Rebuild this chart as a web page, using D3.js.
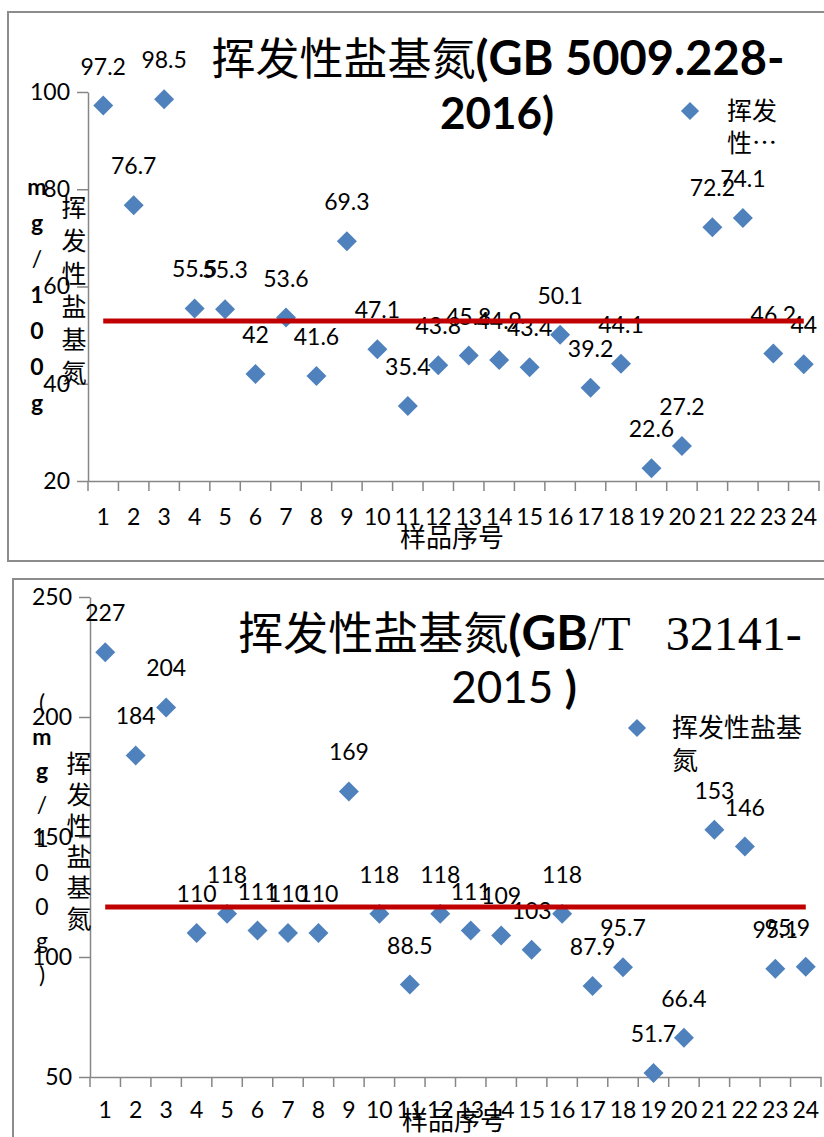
<!DOCTYPE html>
<html>
<head>
<meta charset="utf-8">
<script src="https://cdn.jsdelivr.net/npm/d3@7"></script>
<style>
  body { margin: 0; background: #fff; }
  svg { display: block; }
</style>
</head>
<body>
<svg id="fig" width="824" height="1137"></svg>
<script>
// Sample numbers (x categories)
const sampleNos = ["1", "2", "3", "4", "5", "6", "7", "8", "9", "10", "11", "12",
                   "13", "14", "15", "16", "17", "18", "19", "20", "21", "22", "23", "24"];

// Volatile basic nitrogen, mg/100g — method GB 5009.228-2016
const tvbnGB5009 = [97.2, 76.7, 98.5, 55.5, 55.3, 42, 53.6, 41.6, 69.3, 47.1, 35.4, 43.8,
                    45.8, 44.9, 43.4, 50.1, 39.2, 44.1, 22.6, 27.2, 72.2, 74.1, 46.2, 44];

// Volatile basic nitrogen, mg/100g — method GB/T 32141-2015
const tvbnGBT32141 = [227, 184, 204, 110, 118, 111, 110, 110, 169, 118, 88.5, 118,
                      111, 109, 103, 118, 87.9, 95.7, 51.7, 66.4, 153, 146, 95.1, 95.9];

// Average level drawn as the red reference line
const meanGB5009 = 52.9;
const meanGBT32141 = 120.8;

// Y axis ticks
const yTicksGB5009 = [20, 40, 60, 80, 100];
const yTicksGBT32141 = [50, 100, 150, 200, 250];

// Text
const seriesName = "挥发性盐基氮";
const xTitle = "样品序号";

const svg = d3.select("#fig");
const LATIN = "Lato, 'Noto Sans CJK SC', sans-serif";
const CJK = "'Noto Sans CJK SC', 'Noto Sans CJK JP', sans-serif";
const SERIF = "'Liberation Serif', 'DejaVu Serif', serif";
const BLUE = "#4F81BD";
const RED = "#C00000";
const AXIS = "#868686";

function drawPanel(p) {
  const g = svg.append("g");

  // chart frame
  g.append("rect")
    .attr("x", p.frame[0]).attr("y", p.frame[1])
    .attr("width", p.frame[2]).attr("height", p.frame[3])
    .attr("fill", "none").attr("stroke", "#8c8c8c").attr("stroke-width", 2);

  const x = d3.scaleBand().domain(sampleNos).range(p.xRange);
  const y = d3.scaleLinear().domain(p.yDomain).range(p.yRange);
  const cx = c => x(c) + x.bandwidth() / 2;

  // y axis
  const ya = g.append("g")
    .attr("transform", `translate(${p.xRange[0]},0)`)
    .call(d3.axisLeft(y).tickValues(p.yTicks).tickFormat(d3.format("d"))
      .tickSize(11).tickPadding(7).tickSizeOuter(0));
  ya.select(".domain").attr("stroke", AXIS).attr("stroke-width", 1.5);
  ya.selectAll(".tick line").attr("stroke", AXIS).attr("stroke-width", 1.5);
  ya.selectAll(".tick text").attr("fill", "#000")
    .style("font-family", LATIN).style("font-size", "23px");

  // x axis: category labels centred in bands, tick marks on band edges
  const xa = g.append("g")
    .attr("transform", `translate(0,${p.yRange[0]})`)
    .call(d3.axisBottom(x).tickSize(0).tickPadding(p.xPad).tickSizeOuter(0));
  xa.select(".domain").attr("stroke", AXIS).attr("stroke-width", 1.5);
  xa.selectAll(".tick text").attr("fill", "#000")
    .style("font-family", LATIN).style("font-size", "23px");
  const edges = sampleNos.map(c => x(c)).concat([x(sampleNos[sampleNos.length - 1]) + x.bandwidth()]);
  xa.selectAll("line.edge").data(edges).join("line")
    .attr("class", "edge")
    .attr("x1", d => d).attr("x2", d => d)
    .attr("y1", 0).attr("y2", 10)
    .attr("stroke", AXIS).attr("stroke-width", 1.5);

  // markers
  const diamond = d3.symbol(d3.symbolSquare, 200);
  g.selectAll("path.pt").data(p.values).join("path")
    .attr("class", "pt")
    .attr("d", diamond)
    .attr("transform", (d, i) => `translate(${cx(sampleNos[i])},${y(d)}) rotate(45)`)
    .attr("fill", BLUE);

  // value labels, kept inside the right edge of the plot
  g.selectAll("text.lbl").data(p.values).join("text")
    .attr("class", "lbl")
    .attr("x", (d, i) => cx(sampleNos[i]))
    .attr("y", d => y(d) - 31)
    .attr("text-anchor", "middle")
    .style("font-family", LATIN).style("font-size", "23px")
    .text(d => d)
    .each(function (d, i) {
      const w = this.getComputedTextLength();
      const c = cx(sampleNos[i]);
      if (c + w / 2 > p.labelMaxX) d3.select(this).attr("x", p.labelMaxX - w / 2);
    });

  // reference line at the average level
  g.append("line")
    .attr("x1", cx(sampleNos[0])).attr("x2", cx(sampleNos[sampleNos.length - 1]))
    .attr("y1", y(p.mean)).attr("y2", y(p.mean))
    .attr("stroke", RED).attr("stroke-width", 5);

  // title
  p.title.forEach(line => {
    const t = g.append("text")
      .attr("x", line.x).attr("y", line.y)
      .attr("text-anchor", "middle")
      .style("white-space", "pre");
    line.parts.forEach(part => {
      t.append("tspan")
        .style("font-family", part.font)
        .style("font-size", part.size + "px")
        .style("font-weight", part.bold ? "bold" : "normal")
        .text(part.text);
    });
  });

  // legend
  g.append("path")
    .attr("d", d3.symbol(d3.symbolSquare, 165))
    .attr("transform", `translate(${p.legend.x},${p.legend.y}) rotate(45)`)
    .attr("fill", BLUE);
  p.legend.lines.forEach((s, i) => {
    g.append("text")
      .attr("x", p.legend.x + p.legend.dx)
      .attr("y", p.legend.y + 9 + i * p.legend.step)
      .style("font-family", CJK).style("font-size", p.legend.size + "px")
      .text(s);
  });

  // stacked y-axis title: unit column and name column
  p.unitChars.forEach((c, i) => {
    g.append("text")
      .attr("x", p.unitX).attr("y", p.unitY + i * p.unitStep)
      .attr("text-anchor", "middle").attr("dominant-baseline", "central")
      .style("font-family", LATIN).style("font-size", "23px")
      .style("font-weight", c[1] ? "bold" : "normal")
      .text(c[0]);
  });
  Array.from(seriesName).forEach((c, i) => {
    g.append("text")
      .attr("x", p.nameX).attr("y", p.nameY + i * p.nameStep)
      .attr("text-anchor", "middle").attr("dominant-baseline", "central")
      .style("font-family", CJK).style("font-size", "25px")
      .text(c);
  });

  // x-axis title
  g.append("text")
    .attr("x", p.xTitleX).attr("y", p.xTitleY)
    .attr("text-anchor", "middle")
    .style("font-family", CJK).style("font-size", "26px")
    .text(xTitle);
}

drawPanel({
  frame: [8, 12, 830, 549],
  xRange: [88, 819],
  yDomain: [20, 100],
  yRange: [481, 92],
  yTicks: yTicksGB5009,
  xPad: 28,
  values: tvbnGB5009,
  mean: meanGB5009,
  labelMaxX: 819,
  title: [
    { x: 498, y: 75, parts: [
      { text: seriesName, font: CJK, size: 44, bold: false },
      { text: "(GB 5009.228-", font: LATIN, size: 47, bold: true }] },
    { x: 497, y: 129, parts: [{ text: "2016)", font: LATIN, size: 44, bold: true }] }
  ],
  legend: { x: 690, y: 111, dx: 37, step: 32, size: 25, lines: ["挥发", "性…"] },
  unitChars: [["m", 1], ["g", 1], ["/", 0], ["1", 1], ["0", 1], ["0", 1], ["g", 1]],
  unitX: 37, unitY: 186, unitStep: 36,
  nameX: 74, nameY: 206, nameStep: 33,
  xTitleX: 452, xTitleY: 547
});

drawPanel({
  frame: [13, 579, 830, 580],
  xRange: [90, 821],
  yDomain: [50, 250],
  yRange: [1077, 597],
  yTicks: yTicksGBT32141,
  xPad: 25,
  values: tvbnGBT32141,
  mean: meanGBT32141,
  labelMaxX: 810,
  title: [
    { x: 520, y: 650, parts: [
      { text: seriesName, font: CJK, size: 45, bold: false },
      { text: "(GB", font: LATIN, size: 48, bold: true },
      { text: "/T   32141-", font: SERIF, size: 48, bold: false }] },
    { x: 514, y: 703, parts: [
      { text: "2015 ", font: LATIN, size: 44, bold: false },
      { text: ")", font: LATIN, size: 44, bold: true }] }
  ],
  legend: { x: 637, y: 728, dx: 35, step: 33, size: 26, lines: ["挥发性盐基", "氮"] },
  unitChars: [["(", 0], ["m", 1], ["g", 1], ["/", 0], ["1", 0], ["0", 0], ["0", 0], ["g", 0], [")", 0]],
  unitX: 42, unitY: 702, unitStep: 34,
  nameX: 79, nameY: 762, nameStep: 31,
  xTitleX: 454, xTitleY: 1130
});
</script>
</body>
</html>
